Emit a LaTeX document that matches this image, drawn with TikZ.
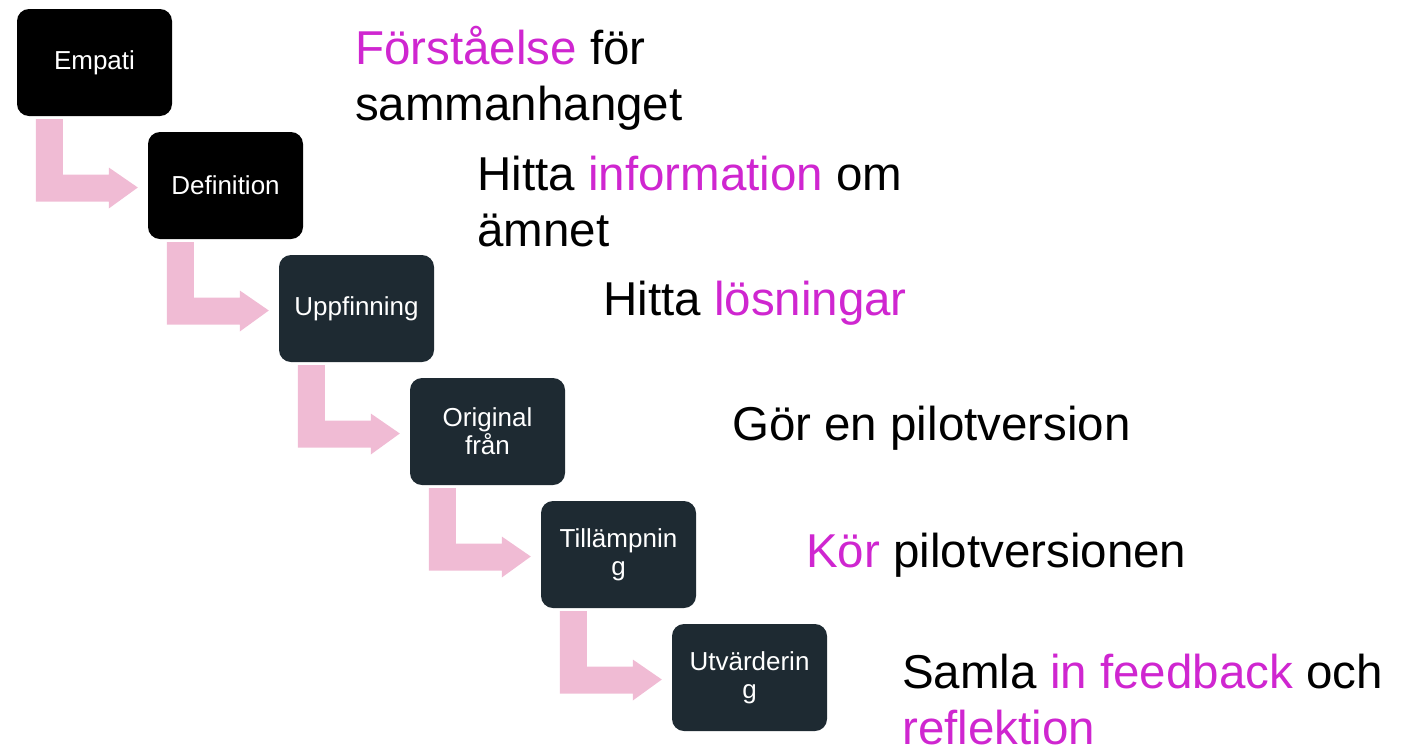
\documentclass[tikz,border=0pt]{standalone}
\usepackage{fontspec}
\setmainfont{Liberation Sans}
\usetikzlibrary{calc}
\definecolor{boxblack}{HTML}{000000}
\definecolor{boxdark}{HTML}{1E2A32}
\definecolor{arrowpink}{HTML}{F0BBD4}
\definecolor{hl}{HTML}{CF26D0}
\tikzset{
  stepbox/.style={rounded corners=12pt, minimum width=155pt, minimum height=107pt,
    inner sep=0pt, text=white, align=center, font=\fontsize{26}{28}\selectfont},
  bigtext/.style={anchor=base west, inner sep=0pt, font=\fontsize{47.5}{56}\selectfont},
  bentarrow/.style={fill=arrowpink, draw=none}
}
\newcommand{\hlt}[1]{\textcolor{hl}{#1}}
\begin{document}
\begin{tikzpicture}[x=1pt,y=-1pt]
\useasboundingbox (0,0) rectangle (1404,750);
\node[stepbox, fill=boxblack] (b1) at (94.5,62.5) {Empati};
\node[stepbox, fill=boxblack] (b2) at (225.5,185.5) {Definition};
\node[stepbox, fill=boxdark] (b3) at (356.5,308.5) {Uppfinning};
\node[stepbox, fill=boxdark] (b4) at (487.5,431.5) {Original\\från};
\node[stepbox, fill=boxdark] (b5) at (618.5,554.5) {Tillämpnin\\g};
\node[stepbox, fill=boxdark] (b6) at (749.5,677.5) {Utvärderin\\g};
\foreach \a/\b in {b1/b2,b2/b3,b3/b4,b4/b5,b5/b6}{
  \path[bentarrow]
    ($(\a.south west)+(19,3)$) coordinate (p1)
    -- ($(\a.south west)+(46,3)$)
    |- ($(\b.west)+(-39,-11)$)
    -- ($(\b.west)+(-39,-18)$)
    -- ($(\b.west)+(-10,2)$)
    -- ($(\b.west)+(-39,23)$)
    -- ($(\b.west)+(-39,16)$)
    -| (p1) -- cycle;
}
\node[bigtext] (t1) at (355,64) {\begin{tabular}[t]{@{}l@{}}\hlt{Förståelse} för\\ sammanhanget\end{tabular}};
\node[bigtext] (t2) at (477,190) {\begin{tabular}[t]{@{}l@{}}Hitta \hlt{information} om\\ ämnet\end{tabular}};
\node[bigtext] (t3) at (603,315) {Hitta \hlt{lösningar}};
\node[bigtext] (t4) at (732,440) {Gör en pilotversion};
\node[bigtext] (t5) at (806,567) {\hlt{Kör} pilotversionen};
\node[bigtext] (t6) at (902,688) {\begin{tabular}[t]{@{}l@{}}Samla \hlt{in feedback} och\\ \hlt{reflektion}\end{tabular}};
\end{tikzpicture}
\end{document}
